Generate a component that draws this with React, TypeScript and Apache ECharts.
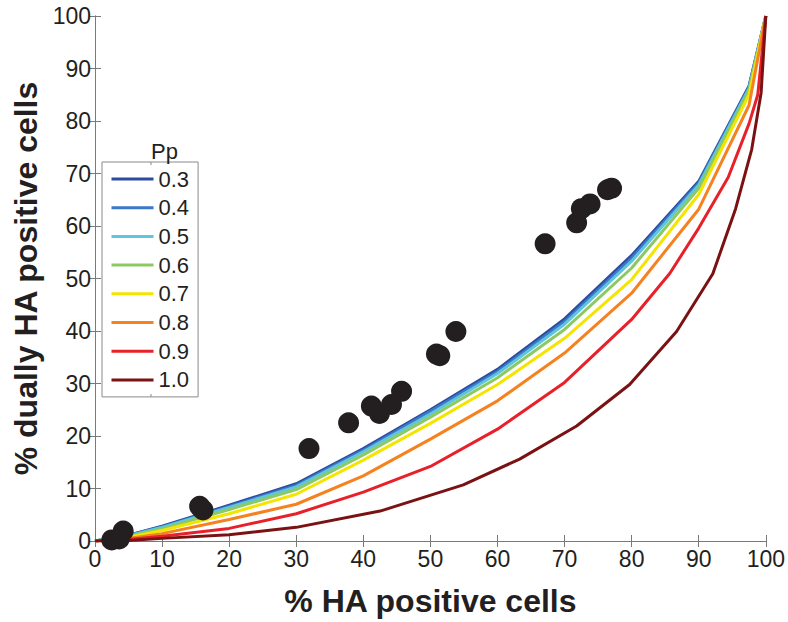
import React, { useEffect, useRef } from "react";
import * as echarts from "echarts";

const FONT = "'Liberation Sans', Arial, Helvetica, sans-serif";

// Legend names (Pp values) and colours
const ppNames = ["0.3", "0.4", "0.5", "0.6", "0.7", "0.8", "0.9", "1.0"];
const ppColors = ["#2c4c9f", "#3b78c7", "#5ec6dc", "#8cc965", "#f3e500", "#f5821f", "#e8202a", "#7a1214"];

// Model curves: [x, y] points
const curve03 = [[0, 0], [5, 1.1], [10, 2.8], [20, 6.8], [30, 10.9], [40, 17.6], [50, 25.0], [60, 32.7], [70, 42.3], [80, 54.4], [90, 68.5], [97.5, 86.7], [100, 100]];
const curve04 = [[0, 0], [5, 1.05], [10, 2.7], [20, 6.6], [30, 10.6], [40, 17.3], [50, 24.7], [60, 32.3], [70, 41.8], [80, 53.9], [90, 68.2], [97.5, 86.5], [100, 100]];
const curve05 = [[0, 0], [5, 1.0], [10, 2.6], [20, 6.4], [30, 10.3], [40, 17.0], [50, 24.2], [60, 31.9], [70, 41.3], [80, 53.3], [90, 67.8], [97.5, 86.2], [100, 100]];
const curve06 = [[0, 0], [5, 0.9], [10, 2.3], [20, 6.0], [30, 9.8], [40, 16.4], [50, 23.6], [60, 31.1], [70, 40.3], [80, 52.0], [90, 67.2], [97.5, 85.8], [100, 100]];
const curve07 = [[0, 0], [5, 0.7], [10, 2.0], [20, 5.2], [30, 8.9], [40, 15.4], [50, 22.4], [60, 29.8], [70, 38.6], [80, 49.8], [90, 66.0], [97.5, 85.0], [100, 100]];
const curve08 = [[0, 0], [5, 0.5], [10, 1.4], [20, 4.1], [30, 7.0], [40, 12.4], [50, 19.4], [60, 26.7], [70, 35.8], [80, 47.2], [90, 63.2], [97.5, 83.0], [100, 100]];
const curve09 = [[0, 0], [5, 0.3], [10, 0.9], [20, 2.4], [30, 5.2], [40, 9.3], [50, 14.2], [60, 21.3], [70, 30.2], [80, 42.2], [85.7, 51.0], [90, 59.6], [94.4, 69.3], [97.5, 79.5], [98.8, 85.0], [100, 100]];
const curve10 = [[0, 0], [5, 0.1], [10, 0.5], [20, 1.2], [30, 2.6], [42.5, 5.7], [54.9, 10.7], [63.3, 15.6], [71.8, 21.9], [79.7, 29.8], [86.7, 39.9], [92.1, 50.9], [95.5, 63.3], [97.9, 74.6], [99.3, 85.4], [100, 100]];
const curves = [curve03, curve04, curve05, curve06, curve07, curve08, curve09, curve10];

// Measured data points (black dots)
const measured = [
  [2.5, 0.2], [3.6, 0.4], [4.2, 1.9], [15.6, 6.6], [16.1, 5.9], [31.9, 17.6], [37.8, 22.5],
  [41.2, 25.7], [42.4, 24.3], [44.2, 26.0], [45.7, 28.5], [50.9, 35.6], [51.4, 35.3], [53.8, 39.9],
  [67.1, 56.6], [71.8, 60.6], [72.5, 63.3], [73.8, 64.2], [76.4, 66.9], [77.0, 67.2],
];

const xTitle = "% HA positive cells";
const yTitle = "% dually HA positive cells";
const legendTitle = "Pp";

const AXIS_COLOR = "#7a7a7a";
const TEXT_COLOR = "#231f20";

export default function App() {
  const ref = useRef<HTMLDivElement>(null);
  useEffect(() => {
    if (!ref.current) return;
    const chart = echarts.init(ref.current, undefined, { renderer: "svg" });
    const axisCommon = {
      type: "value" as const,
      min: 0,
      max: 100,
      interval: 10,
      splitLine: { show: false },
      axisLine: { show: true, lineStyle: { color: AXIS_COLOR, width: 1 } },
      axisTick: { show: true, inside: true, length: 6, lineStyle: { color: AXIS_COLOR, width: 1 } },
    };
    const option: any = {
      animation: false,
      backgroundColor: "#ffffff",
      grid: { left: 95, right: 22, top: 16, bottom: 78, containLabel: false },
      xAxis: [
        {
          ...axisCommon,
          position: "bottom",
          axisLabel: { fontSize: 23, color: TEXT_COLOR, margin: 6, fontFamily: FONT },
          name: xTitle,
          nameLocation: "middle",
          nameGap: 44,
          nameTextStyle: { fontSize: 32, fontWeight: "bold", color: TEXT_COLOR, fontFamily: FONT },
        },
        { ...axisCommon, position: "top", axisLabel: { show: false } },
      ],
      yAxis: [
        {
          ...axisCommon,
          position: "left",
          axisLabel: { fontSize: 23, color: TEXT_COLOR, margin: 4, fontFamily: FONT },
          name: yTitle,
          nameLocation: "middle",
          nameGap: 46,
          nameTextStyle: { fontSize: 32, fontWeight: "bold", color: TEXT_COLOR, fontFamily: FONT },
        },
        { ...axisCommon, position: "right", axisLabel: { show: false } },
      ],
      legend: {
        data: ppNames.map((n, i) => ({ name: n, icon: "rect", itemStyle: { color: ppColors[i] } })),
        orient: "vertical",
        left: 102,
        top: 162,
        itemWidth: 42,
        itemHeight: 3,
        itemGap: 6.7,
        padding: [6, 9, 6, 9.5],
        borderColor: "#8a8a8a",
        borderWidth: 1,
        backgroundColor: "#ffffff",
        selectedMode: false,
        textStyle: { fontSize: 22, color: TEXT_COLOR, fontFamily: FONT },
      },
      graphic: [
        {
          type: "text",
          left: 151,
          top: 140,
          style: { text: legendTitle, x: 0, y: 0, fill: TEXT_COLOR, fontSize: 22, fontFamily: FONT, textAlign: "center" },
          z: 100,
        },
        { type: "line", shape: { x1: 151, y1: 162, x2: 151, y2: 165 }, style: { stroke: "#8a8a8a", lineWidth: 1 }, z: 100 },
        { type: "line", shape: { x1: 151, y1: 394, x2: 151, y2: 397 }, style: { stroke: "#8a8a8a", lineWidth: 1 }, z: 100 },
      ],
      series: [
        ...curves.map((c, i) => ({
          name: ppNames[i],
          type: "line",
          data: c,
          xAxisIndex: 0,
          yAxisIndex: 0,
          symbol: "none",
          showSymbol: false,
          smooth: false,
          lineStyle: { width: 3, color: ppColors[i] },
          itemStyle: { color: ppColors[i] },
          z: 2 + i * 0.01,
        })),
        {
          name: "measured",
          type: "scatter",
          data: measured,
          symbol: "circle",
          symbolSize: 21,
          itemStyle: { color: TEXT_COLOR, opacity: 1 },
          z: 5,
        },
      ],
    };
    chart.setOption(option);
    return () => chart.dispose();
  }, []);
  return <div ref={ref} style={{ position: "absolute", left: 0, top: 0, width: 788, height: 622 }} />;
}
